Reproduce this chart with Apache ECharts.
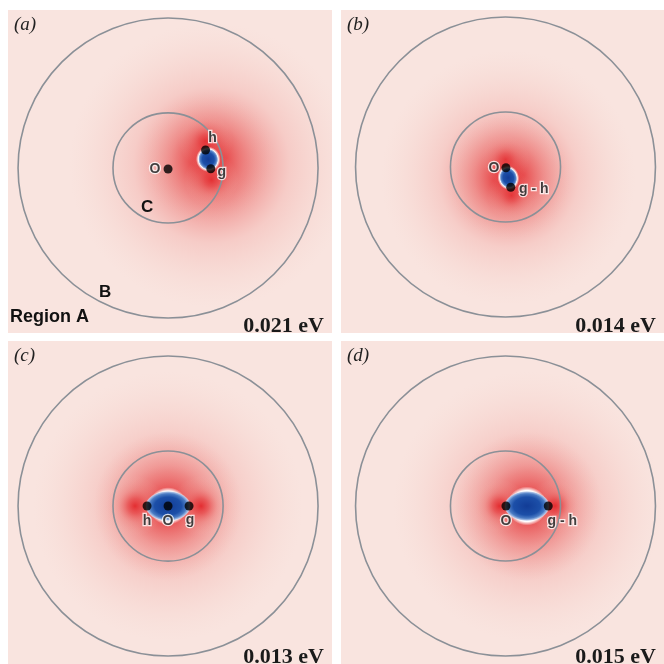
<!DOCTYPE html>
<html>
<head>
<meta charset="utf-8">
<script src="https://cdn.jsdelivr.net/npm/echarts@6/dist/echarts.min.js"></script>
<style>
  html, body { margin: 0; background: #fff; }
  #chart { width: 664px; height: 664px; }
</style>
</head>
<body>
<div id="chart"></div>
<script>
// panel tags and energies
const panelTags = ['(a)', '(b)', '(c)', '(d)'];
const energies = ['0.021 eV', '0.014 eV', '0.013 eV', '0.015 eV'];

// ring radii (outer ring B, inner ring C), in units of the outer radius
const ringRadii = [1.0, 0.367];

// sites [x, y, name] per panel (units of outer radius, origin at ring centre)
const sitesA = [[0.0, -0.007, 'O'], [0.25, 0.12, 'h'], [0.285, -0.005, 'g']];
const sitesB = [[0.003, -0.005, 'O'], [0.035, -0.135, 'g - h']];
const sitesC = [[-0.14, 0.0, 'h'], [0.0, 0.0, 'O'], [0.14, 0.0, 'g']];
const sitesD = [[0.003, 0.0, 'O'], [0.285, 0.0, 'g - h']];

// red (positive) lobes [x, y, radius, strength]
const redA = [[0.29, 0.02, 0.95, 0.75], [0.27, 0.06, 0.45, 1.0], [0.25, 0.18, 0.18, 0.7], [0.29, -0.08, 0.18, 0.75]];
const redB = [[0.02, -0.07, 0.85, 0.7], [0.02, -0.07, 0.42, 1.0], [0.0, 0.05, 0.16, 0.6], [0.04, -0.19, 0.16, 0.65]];
const redC = [[0.0, 0.0, 0.9, 0.65], [0.0, 0.0, 0.5, 0.75], [-0.22, 0.0, 0.2, 0.9], [0.22, 0.0, 0.2, 0.9]];
const redD = [[0.15, 0.0, 0.9, 0.65], [0.15, 0.0, 0.5, 0.75], [-0.04, 0.0, 0.18, 0.9], [0.33, 0.0, 0.18, 0.9]];

// blue (negative) lobe [x, y, rx, ry, tilt in degrees, white rim rx, white rim ry]
const blueA = [[0.268, 0.058, 0.066, 0.07, 14, 0.082, 0.085]];
const blueB = [[0.019, -0.072, 0.058, 0.068, 14, 0.072, 0.082]];
const blueC = [[0.0, 0.0, 0.15, 0.1, 0, 0.13, 0.125]];
const blueD = [[0.143, 0.0, 0.15, 0.1, 0, 0.135, 0.13]];

const sites = [sitesA, sitesB, sitesC, sitesD];
const reds = [redA, redB, redC, redD];
const blues = [blueA, blueB, blueC, blueD];

// layout
const panels = [
  { left: 8, top: 10, width: 324, height: 323, x: [-1.067, 1.093], y: [-1.1, 1.053] },
  { left: 341, top: 10, width: 323, height: 323, x: [-1.097, 1.057], y: [-1.107, 1.047] },
  { left: 8, top: 341, width: 324, height: 323, x: [-1.067, 1.093], y: [-1.053, 1.1] },
  { left: 341, top: 341, width: 323, height: 323, x: [-1.097, 1.057], y: [-1.053, 1.1] }
];
const labelOffsets = [
  [[-13, 0], [7, -12], [11, 3]],
  [[-12, 0], [23, 2]],
  [[0, 15], [0, 15], [1, 14]],
  [[0, 15], [14, 15]]
];

const BG = '#f9e4df';
const SANS = 'Liberation Sans, Arial, sans-serif';
const SERIF = 'Liberation Serif, Times New Roman, serif';

function renderRed(params, api) {
  const c = api.coord([api.value(0), api.value(1)]);
  const r = api.size([api.value(2), 0])[0];
  const s = api.value(3);
  return {
    type: 'circle',
    shape: { cx: c[0], cy: c[1], r: r },
    style: {
      fill: new echarts.graphic.RadialGradient(0.5, 0.5, 0.5, [
        { offset: 0, color: 'rgba(226,36,40,' + s + ')' },
        { offset: 0.25, color: 'rgba(230,62,64,' + (s * 0.72) + ')' },
        { offset: 0.55, color: 'rgba(236,120,116,' + (s * 0.3) + ')' },
        { offset: 1, color: 'rgba(240,190,180,0)' }
      ])
    }
  };
}

function ellipse(c, sz, rot, fill) {
  return {
    type: 'circle',
    x: c[0],
    y: c[1],
    rotation: rot,
    scaleX: sz[0] / sz[1],
    shape: { cx: 0, cy: 0, r: sz[1] },
    style: { fill: fill }
  };
}

function renderBlue(params, api) {
  const c = api.coord([api.value(0), api.value(1)]);
  const rot = api.value(4) * Math.PI / 180;
  const core = api.size([api.value(2), api.value(3)]);
  const rim = api.size([api.value(5), api.value(6)]);
  return {
    type: 'group',
    children: [
      ellipse(c, rim, rot, new echarts.graphic.RadialGradient(0.5, 0.5, 0.5, [
        { offset: 0, color: '#ffffff' },
        { offset: 0.8, color: '#ffffff' },
        { offset: 1, color: 'rgba(255,255,255,0)' }
      ])),
      ellipse(c, core, rot, new echarts.graphic.RadialGradient(0.5, 0.5, 0.5, [
        { offset: 0, color: '#123c96' },
        { offset: 0.6, color: '#1c4fa8' },
        { offset: 0.82, color: '#4b7cc4' },
        { offset: 0.94, color: '#a9c0e6' },
        { offset: 1, color: 'rgba(230,238,250,0.4)' }
      ]))
    ]
  };
}

function renderRing(params, api) {
  const c = api.coord([0, 0]);
  const r = api.size([api.value(0), 0])[0];
  return {
    type: 'circle',
    shape: { cx: c[0], cy: c[1], r: r },
    style: { fill: 'none', stroke: '#8b9097', lineWidth: 1.6 }
  };
}

const grid = [], xAxis = [], yAxis = [], series = [], graphic = [];

panels.forEach(function (p, i) {
  grid.push({
    left: p.left, top: p.top, width: p.width, height: p.height,
    show: true, backgroundColor: BG, borderWidth: 0
  });
  xAxis.push({ gridIndex: i, type: 'value', min: p.x[0], max: p.x[1], show: false });
  yAxis.push({ gridIndex: i, type: 'value', min: p.y[0], max: p.y[1], show: false });

  series.push({
    type: 'custom', xAxisIndex: i, yAxisIndex: i, clip: true, z: 1,
    renderItem: renderRed, data: reds[i], silent: true
  });
  series.push({
    type: 'custom', xAxisIndex: i, yAxisIndex: i, clip: true, z: 2,
    renderItem: renderBlue, data: blues[i], silent: true
  });
  series.push({
    type: 'custom', xAxisIndex: i, yAxisIndex: i, z: 3,
    renderItem: renderRing, data: ringRadii.map(function (r) { return [r]; }), silent: true
  });
  series.push({
    type: 'scatter', xAxisIndex: i, yAxisIndex: i, z: 4,
    symbolSize: 9,
    itemStyle: { color: '#000' },
    data: sites[i].map(function (s, k) {
      return {
        name: s[2],
        value: [s[0], s[1]],
        label: { offset: labelOffsets[i][k] }
      };
    }),
    label: {
      show: true, position: 'inside', formatter: '{b}',
      color: '#111', fontFamily: SANS, fontWeight: 'bold', fontSize: 14,
      textBorderColor: '#fff', textBorderWidth: 2.5
    },
    silent: true
  });

  graphic.push({
    type: 'text', x: p.left + 6, y: p.top + 5, z: 10,
    style: { text: panelTags[i], font: 'italic 19px ' + SERIF, fill: '#222' }
  });
  graphic.push({
    type: 'text', x: p.left + p.width - 8, y: p.top + p.height + 4, z: 10,
    style: {
      text: energies[i], font: 'bold 22px ' + SERIF, fill: '#1a1a1a',
      align: 'right', verticalAlign: 'bottom'
    }
  });
});

// region labels in panel (a)
graphic.push(
  { type: 'text', x: 10, y: 326, z: 10,
    style: { text: 'Region A', font: 'bold 18px ' + SANS, fill: '#111', verticalAlign: 'bottom' } },
  { type: 'text', x: 99, y: 301, z: 10,
    style: { text: 'B', font: 'bold 17px ' + SANS, fill: '#111', verticalAlign: 'bottom' } },
  { type: 'text', x: 141, y: 216, z: 10,
    style: { text: 'C', font: 'bold 17px ' + SANS, fill: '#111', verticalAlign: 'bottom' } }
);

const chart = echarts.init(document.getElementById('chart'));
chart.setOption({
  animation: false,
  backgroundColor: '#fff',
  grid: grid,
  xAxis: xAxis,
  yAxis: yAxis,
  series: series,
  graphic: graphic
});
</script>
</body>
</html>
